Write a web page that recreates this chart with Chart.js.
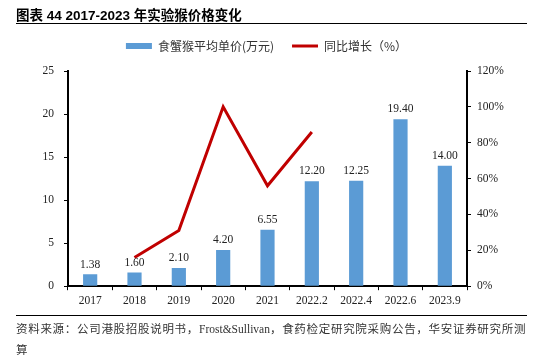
<!DOCTYPE html>
<html>
<head>
<meta charset="utf-8">
<script src="https://cdn.jsdelivr.net/npm/chart.js@4/dist/chart.umd.min.js"></script>
<style>
    html, body { margin: 0; padding: 0; background: #fff; }
    #wrap { position: relative; width: 543px; height: 361px; overflow: hidden; }
    #chartCanvas { position: absolute; left: 0; top: 0; }
    .title {
        position: absolute; left: 16px; top: 4px;
        font: bold 13.5px "Liberation Sans", "Noto Sans CJK SC", sans-serif;
        color: #000; white-space: nowrap;
    }
    .rule { position: absolute; left: 16px; width: 511px; height: 0; border-top: 1.5px solid #000; }
    .source {
        position: absolute; left: 16px; top: 318px; width: 520px;
        font: 11.5px "Noto Sans CJK SC", sans-serif; line-height: 20px;
        color: #333; letter-spacing: 0.7px; white-space: nowrap;
    }
    .source .latin { font-family: "Liberation Serif", serif; letter-spacing: 0; }
</style>
</head>
<body>
<div id="wrap">
    <canvas id="chartCanvas" width="543" height="361"></canvas>
    <div class="title">图表 44 2017-2023 年实验猴价格变化</div>
    <div class="rule" style="top: 23px;"></div>
    <div class="rule" style="top: 315px;"></div>
    <div class="source">资料来源：公司港股招股说明书，<span class="latin">Frost&amp;Sullivan</span>，食药检定研究院采购公告，华安证券研究所测<br>算</div>
</div>
<script>
    const categories = ['2017', '2018', '2019', '2020', '2021', '2022.2', '2022.4', '2022.6', '2023.9'];
    const avgPrice = [1.38, 1.60, 2.10, 4.20, 6.55, 12.20, 12.25, 19.40, 14.00];
    const yoyGrowth = [null, 16, 31, 100, 56, 86, null, null, null];
    const leftTicks = [0, 5, 10, 15, 20, 25];
    const rightTicks = [0, 20, 40, 60, 80, 100, 120];

    const barColor = '#5B9BD5';
    const lineColor = '#C00000';
    const serif = 'Liberation Serif';

    const barLabels = {
        id: 'barLabels',
        afterDatasetsDraw(chart) {
            const ctx = chart.ctx;
            const meta = chart.getDatasetMeta(0);
            ctx.save();
            ctx.font = '11.5px "' + serif + '"';
            ctx.fillStyle = '#222';
            ctx.textAlign = 'center';
            ctx.textBaseline = 'bottom';
            meta.data.forEach(function (bar, i) {
                ctx.fillText(avgPrice[i].toFixed(2), bar.x, bar.y - 4);
            });
            ctx.restore();
        }
    };

    // leave a bit more room between the legend and the plot
    const legendGap = {
        id: 'legendGap',
        beforeLayout(chart) {
            const legend = chart.legend;
            if (!legend || legend._gapPatched) return;
            const fit = legend.fit;
            legend.fit = function () {
                fit.call(this);
                this.height += 9;
            };
            legend._gapPatched = true;
        }
    };

    function fixWidth(width) {
        return function (scale) { scale.width = width; };
    }

    new Chart(document.getElementById('chartCanvas'), {
        data: {
            labels: categories,
            datasets: [
                {
                    type: 'bar',
                    label: '食蟹猴平均单价(万元)',
                    data: avgPrice,
                    yAxisID: 'y',
                    backgroundColor: barColor,
                    borderWidth: 0,
                    categoryPercentage: 1,
                    barPercentage: 0.32,
                    pointStyle: 'rect'
                },
                {
                    type: 'line',
                    label: '同比增长（%）',
                    data: yoyGrowth,
                    yAxisID: 'y1',
                    borderColor: lineColor,
                    backgroundColor: lineColor,
                    borderWidth: 3,
                    pointRadius: 0,
                    tension: 0,
                    spanGaps: false,
                    pointStyle: 'line'
                }
            ]
        },
        options: {
            responsive: false,
            animation: false,
            layout: { padding: { top: 22, left: 10, right: 20, bottom: 49 } },
            plugins: {
                tooltip: { enabled: false },
                legend: {
                    position: 'top',
                    labels: {
                        usePointStyle: true,
                        pointStyleWidth: 26,
                        boxHeight: 6,
                        padding: 18,
                        color: '#333',
                        font: { family: 'Noto Sans CJK SC', size: 12 }
                    }
                }
            },
            scales: {
                x: {
                    border: { color: '#000', width: 2 },
                    grid: { drawOnChartArea: false, color: '#000', tickLength: 4, offset: true },
                    ticks: { color: '#222', padding: 4, font: { family: serif, size: 11.5 } }
                },
                y: {
                    position: 'left',
                    min: 0,
                    max: 25,
                    afterFit: fixWidth(58),
                    afterBuildTicks: function (scale) {
                        scale.ticks = leftTicks.map(function (v) { return { value: v }; });
                    },
                    border: { color: '#000', width: 2 },
                    grid: { drawOnChartArea: false, color: '#000', tickLength: 4 },
                    ticks: { color: '#222', padding: 10, font: { family: serif, size: 11.5 } }
                },
                y1: {
                    position: 'right',
                    min: 0,
                    max: 120,
                    afterFit: fixWidth(56),
                    afterBuildTicks: function (scale) {
                        scale.ticks = rightTicks.map(function (v) { return { value: v }; });
                    },
                    border: { color: '#000', width: 2 },
                    grid: { drawOnChartArea: false, color: '#000', tickLength: 4 },
                    ticks: {
                        color: '#222',
                        padding: 6,
                        font: { family: serif, size: 11.5 },
                        callback: function (v) { return v + '%'; }
                    }
                }
            }
        },
        plugins: [barLabels, legendGap]
    });
</script>
</body>
</html>
